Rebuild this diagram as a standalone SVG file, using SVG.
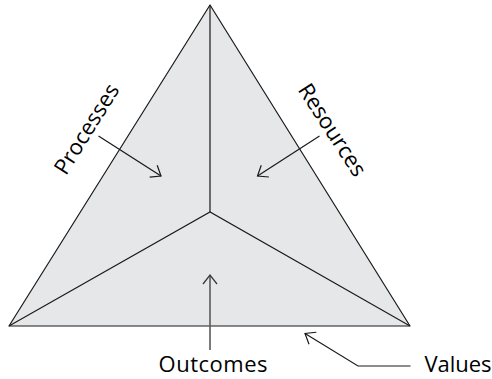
<svg xmlns="http://www.w3.org/2000/svg" width="492" height="379" viewBox="0 0 492 379">
  <defs>
    <style>
      .face { fill: #e6e7e8; stroke: none; }
      .edge { fill: none; stroke: #1a1a1a; stroke-width: 1.2; stroke-linejoin: round; }
      .inner { fill: none; stroke: #1a1a1a; stroke-width: 1.1; }
      .vert { fill: none; stroke: #4d4d4d; stroke-width: 1.6; }
      .conn { fill: none; stroke: #1a1a1a; stroke-width: 1.2; }
      .conn-gray { fill: none; stroke: #5a5a5a; stroke-width: 1.6; }
      .label { font-family: "Open Sans", "Noto Sans", "Liberation Sans", sans-serif; font-size: 22px; fill: #000; }
    </style>
    <marker id="open" markerUnits="userSpaceOnUse" markerWidth="14" markerHeight="18" refX="10" refY="8" orient="auto" overflow="visible">
      <path d="M1,1 L10,8 L1,15" fill="none" stroke="#1a1a1a" stroke-width="1.2"/>
    </marker>
    <marker id="open-gray" markerUnits="userSpaceOnUse" markerWidth="14" markerHeight="18" refX="10" refY="8" orient="auto" overflow="visible">
      <path d="M1,1 L10,8 L1,15" fill="none" stroke="#3a3a3a" stroke-width="1.3"/>
    </marker>
  </defs>

  <g id="pyramid">
    <polygon class="face" points="210,5 9,326 410,326"/>
    <line class="vert" x1="210" y1="5" x2="210" y2="212"/>
    <polyline class="inner" points="9,326 210,212 410,326"/>
    <polygon class="edge" points="210,5 9,326 410,326"/>
  </g>

  <g id="node-processes">
    <text class="label" text-anchor="middle" transform="translate(93,133) rotate(-58)">Processes</text>
  </g>
  <g id="node-resources">
    <text class="label" text-anchor="middle" transform="translate(326,134) rotate(57)">Resources</text>
  </g>
  <g id="node-outcomes">
    <text class="label" x="213" y="372" text-anchor="middle" textLength="109">Outcomes</text>
  </g>
  <g id="node-values">
    <text class="label" x="458" y="372" text-anchor="middle">Values</text>
  </g>

  <g id="connectors">
    <line class="conn" x1="98.5" y1="136" x2="161" y2="176" marker-end="url(#open)"/>
    <line class="conn" x1="319.5" y1="136" x2="257.5" y2="176" marker-end="url(#open)"/>
    <line class="conn-gray" x1="210" y1="350" x2="210" y2="275" marker-end="url(#open-gray)"/>
    <polyline class="conn" points="410.5,366 358,366 305,333.5" marker-end="url(#open)"/>
  </g>
</svg>
